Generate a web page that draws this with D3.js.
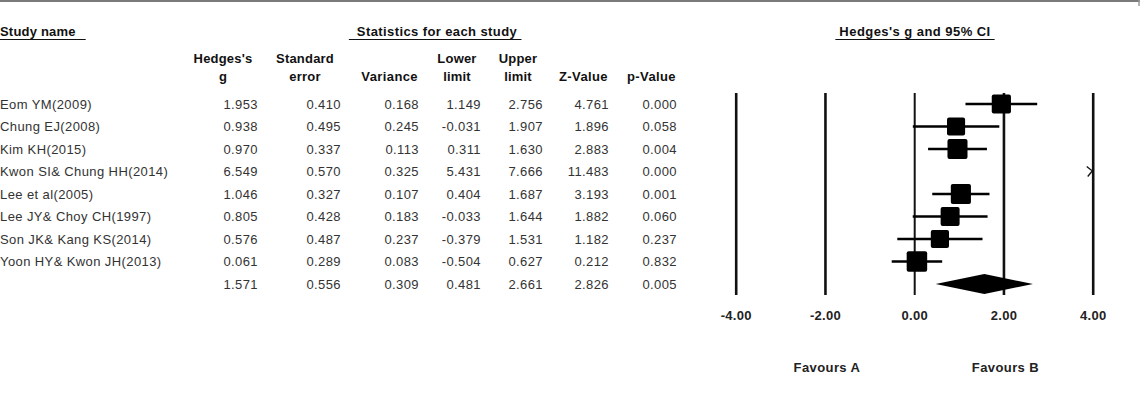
<!DOCTYPE html>
<html>
<head>
<meta charset="utf-8">
<script src="https://cdn.jsdelivr.net/npm/d3@7/dist/d3.min.js"></script>
<style>
  html, body { margin: 0; padding: 0; background: #fff; }
  svg { display: block; font-family: "Liberation Sans", Arial, sans-serif; }
</style>
</head>
<body>
<svg id="chart" width="1140" height="420"></svg>
<script>
// ---------- data ----------
const studies = ["Eom YM(2009)", "Chung EJ(2008)", "Kim KH(2015)", "Kwon SI& Chung HH(2014)",
  "Lee et al(2005)", "Lee JY& Choy CH(1997)", "Son JK& Kang KS(2014)", "Yoon HY& Kwon JH(2013)"];
const hedgesG   = [1.953, 0.938, 0.970, 6.549, 1.046, 0.805, 0.576, 0.061];
const stdError  = [0.410, 0.495, 0.337, 0.570, 0.327, 0.428, 0.487, 0.289];
const variance  = [0.168, 0.245, 0.113, 0.325, 0.107, 0.183, 0.237, 0.083];
const lowerLim  = [1.149, -0.031, 0.311, 5.431, 0.404, -0.033, -0.379, -0.504];
const upperLim  = [2.756, 1.907, 1.630, 7.666, 1.687, 1.644, 1.531, 0.627];
const zValue    = [4.761, 1.896, 2.883, 11.483, 3.193, 1.882, 1.182, 0.212];
const pValue    = [0.000, 0.058, 0.004, 0.000, 0.001, 0.060, 0.237, 0.832];
const summary   = { g: 1.571, se: 0.556, v: 0.309, lo: 0.481, hi: 2.661, z: 2.826, p: 0.005 };
const xTicks    = [-4, -2, 0, 2, 4];
const colHeaders = [["Hedges's", "g"], ["Standard", "error"], ["Variance"], ["Lower", "limit"],
  ["Upper", "limit"], ["Z-Value"], ["p-Value"]];

// ---------- layout ----------
const svg = d3.select("#chart");
const FONT = "\"Liberation Sans\", Arial, sans-serif";
const rowY0 = 104, rowStep = 22.5;
const nRows = studies.length + 1;
const y = d3.scaleLinear().domain([0, nRows - 1]).range([rowY0, rowY0 + rowStep * (nRows - 1)]);
const x = d3.scaleLinear().domain([-4, 4]).range([735.7, 1092.7]);
const plotTop = 93, plotBottom = 295;

// top frame line
svg.append("line").attr("x1", 0).attr("x2", 1140).attr("y1", 1).attr("y2", 1)
  .attr("stroke", "#7a7a7a").attr("stroke-width", 2);
svg.append("line").attr("x1", 1139).attr("x2", 1139).attr("y1", 0).attr("y2", 6)
  .attr("stroke", "#9a9a9a").attr("stroke-width", 1.5);

// ---------- section headers (underlined) ----------
function underlinedHeader(txt, xPos, anchor, padL, padR, ls) {
  const t = svg.append("text").attr("x", xPos).attr("y", 36)
    .attr("text-anchor", anchor).attr("font-size", 13).attr("font-weight", "bold")
    .attr("letter-spacing", ls).attr("fill", "#111").text(txt);
  const bb = t.node().getBBox();
  svg.append("line").attr("x1", bb.x - padL).attr("x2", bb.x + bb.width + padR)
    .attr("y1", 39.5).attr("y2", 39.5).attr("stroke", "#111").attr("stroke-width", 1);
}
underlinedHeader("Study name", 0, "start", 0, 10, 0.2);
underlinedHeader("Statistics for each study", 437, "middle", 8, 4, 0.4);
underlinedHeader("Hedges's g and 95% CI", 915, "middle", 4, 4, 0.45);

// ---------- column headers ----------
const colRight = [258, 341, 419, 481, 543, 609, 677];
const colHeadCenter = [223, 305, null, 457, 518, null, null];
colHeaders.forEach((lines, i) => {
  if (lines.length === 2) {
    lines.forEach((ln, j) => {
      svg.append("text").attr("x", colHeadCenter[i]).attr("y", j === 0 ? 63 : 81)
        .attr("text-anchor", "middle").attr("font-size", 13).attr("font-weight", "bold")
        .attr("letter-spacing", 0.2).attr("fill", "#111").text(ln);
    });
  } else {
    svg.append("text").attr("x", colRight[i] - 1).attr("y", 81)
      .attr("text-anchor", "end").attr("font-size", 13).attr("font-weight", "bold")
      .attr("letter-spacing", 0.4).attr("fill", "#111").text(lines[0]);
  }
});

// ---------- table rows ----------
const f3 = v => v.toFixed(3);
const rows = studies.map((s, i) => ({
  name: s, vals: [hedgesG[i], stdError[i], variance[i], lowerLim[i], upperLim[i], zValue[i], pValue[i]]
}));
rows.push({ name: "", vals: [summary.g, summary.se, summary.v, summary.lo, summary.hi, summary.z, summary.p] });

const rowG = svg.append("g").attr("font-size", 13).attr("letter-spacing", 0.4).attr("fill", "#333");
rows.forEach((r, i) => {
  const yy = y(i) + 4.6;
  rowG.append("text").attr("x", 0).attr("y", yy).text(r.name);
  r.vals.forEach((v, k) => {
    rowG.append("text").attr("x", colRight[k]).attr("y", yy).attr("text-anchor", "end").text(f3(v));
  });
});

// ---------- forest plot ----------
const axis = d3.axisBottom(x).tickValues(xTicks).tickFormat(d => d.toFixed(2))
  .tickSizeInner(-(plotBottom - plotTop)).tickSizeOuter(0).tickPadding(16);
const ax = svg.append("g").attr("transform", `translate(0,${plotBottom})`).call(axis);
ax.select(".domain").remove();
ax.selectAll(".tick line").attr("stroke", "#111").attr("stroke-width", d => d === 0 ? 2 : 2.6);
ax.selectAll(".tick text").attr("font-family", FONT).attr("font-size", 13)
  .attr("font-weight", "bold").attr("letter-spacing", 0.3).attr("fill", "#222");

// random-effects weights (DerSimonian-Laird) for box sizes
const wF = variance.map(v => 1 / v);
const sw = d3.sum(wF);
const ybar = d3.sum(hedgesG.map((g, i) => wF[i] * g)) / sw;
const Q = d3.sum(hedgesG.map((g, i) => wF[i] * (g - ybar) ** 2));
const C = sw - d3.sum(wF.map(w => w * w)) / sw;
const tau2 = Math.max(0, (Q - (studies.length - 1)) / C);
const wR = variance.map(v => 1 / (v + tau2));
const boxSize = d3.scaleLinear().domain(d3.extent(wR)).range([17, 20.5]);

const plotG = svg.append("g");
const [xmin, xmax] = x.domain();
studies.forEach((s, i) => {
  const yy = y(i);
  const lo = Math.max(lowerLim[i], xmin), hi = Math.min(upperLim[i], xmax);
  if (hedgesG[i] <= xmax && hedgesG[i] >= xmin) {
    plotG.append("line").attr("x1", x(lo)).attr("x2", x(hi)).attr("y1", yy).attr("y2", yy)
      .attr("stroke", "#000").attr("stroke-width", 2.6);
    const b = boxSize(wR[i]);
    plotG.append("rect").attr("x", x(hedgesG[i]) - b / 2).attr("y", yy - b / 2)
      .attr("width", b).attr("height", b).attr("rx", 2).attr("fill", "#000");
  } else {
    // off-scale marker: arrow at the axis edge
    const xe = x(xmax);
    plotG.append("path")
      .attr("d", `M${xe - 6},${yy - 5} L${xe - 1},${yy - 1} M${xe - 5},${yy + 5} L${xe},${yy - 1}`)
      .attr("stroke", "#111").attr("stroke-width", 1.3).attr("fill", "none");
  }
});

// summary diamond
const sy = y(studies.length), dh = 10;
plotG.append("path")
  .attr("d", `M${x(summary.lo)},${sy} L${x(summary.g)},${sy - dh} L${x(summary.hi)},${sy} L${x(summary.g)},${sy + dh} Z`)
  .attr("fill", "#000");

// favours labels
svg.append("text").attr("x", x(-2) + 2).attr("y", 372).attr("text-anchor", "middle")
  .attr("font-size", 13).attr("font-weight", "bold").attr("letter-spacing", 0.4).attr("fill", "#222").text("Favours A");
svg.append("text").attr("x", x(2) + 2).attr("y", 372).attr("text-anchor", "middle")
  .attr("font-size", 13).attr("font-weight", "bold").attr("letter-spacing", 0.4).attr("fill", "#222").text("Favours B");
</script>
</body>
</html>
